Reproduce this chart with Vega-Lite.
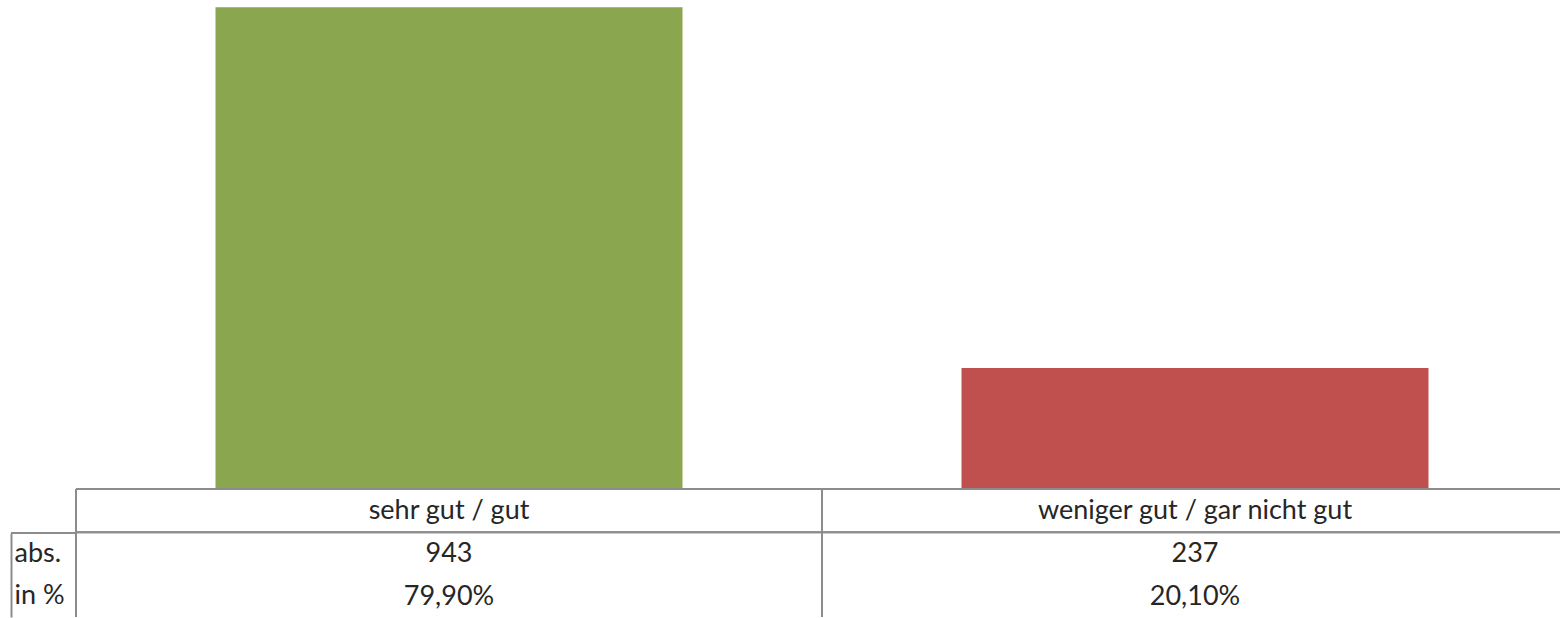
{
  "$schema": "https://vega.github.io/schema/vega-lite/v6.json",
  "padding": {"left": 10, "top": 0, "right": 0, "bottom": 0},
  "bounds": "flush",
  "spacing": 0,
  "columns": 2,
  "resolve": {"scale": {"x": "independent", "y": "independent", "color": "independent"}},
  "config": {
    "view": {"stroke": null},
    "font": "Lato",
    "text": {"font": "Lato", "fontSize": 27, "color": "#262626"},
    "rule": {"color": "#8c8c8c", "strokeWidth": 2}
  },
  "datasets": {
    "main": [
      {"kategorie": "sehr gut / gut", "abs": 943, "prozent": "79,90%"},
      {"kategorie": "weniger gut / gar nicht gut", "abs": 237, "prozent": "20,10%"}
    ]
  },
  "concat": [
    {
      "width": 65,
      "height": 489,
      "data": {"values": [{}]},
      "mark": {"type": "text"},
      "encoding": {"text": {"value": ""}}
    },
    {
      "width": 1484,
      "height": 489,
      "data": {"name": "main"},
      "mark": {"type": "bar", "width": {"band": 0.626}},
      "encoding": {
        "x": {
          "field": "kategorie", "type": "nominal", "sort": null,
          "scale": {"range": [0, 1492], "paddingInner": 0, "paddingOuter": 0},
          "axis": null
        },
        "y": {
          "field": "abs", "type": "quantitative",
          "scale": {"domain": [0, 957]},
          "axis": null
        },
        "color": {
          "field": "kategorie", "type": "nominal", "sort": null,
          "scale": {"range": ["#8aa64e", "#c0504d"]},
          "legend": null
        }
      }
    },
    {
      "width": 65,
      "height": 128,
      "data": {"values": [{"zeile": "abs."}]},
      "mark": {"type": "rule"},
      "encoding": {
        "y": {
          "field": "zeile", "type": "nominal", "bandPosition": 0,
          "scale": {"domain": ["abs.", "in %"], "range": [44, 128], "paddingInner": 0, "paddingOuter": 0},
          "axis": {
            "orient": "left", "title": null, "domain": true, "domainColor": "#8c8c8c", "domainWidth": 2,
            "ticks": false, "tickSize": 0, "grid": false,
            "labelAlign": "left", "labelPadding": -3, "labelFont": "Lato", "labelFontSize": 27,
            "labelColor": "#262626", "minExtent": 0
          }
        }
      }
    },
    {
      "width": 1484,
      "height": 128,
      "data": {"name": "main"},
      "encoding": {
        "x": {
          "field": "kategorie", "type": "nominal", "sort": null,
          "scale": {"range": [0, 1492], "paddingInner": 0, "paddingOuter": 0},
          "axis": null
        }
      },
      "layer": [
        {
          "mark": {"type": "rule"},
          "encoding": {"x": {"field": "kategorie", "type": "nominal", "sort": null, "bandPosition": 0}}
        },
        {
          "mark": {"type": "rule"},
          "encoding": {
            "x": null,
            "y": {"datum": "h", "type": "nominal", "bandPosition": 0,
              "scale": {"domain": ["h", "abs.", "in %"], "range": [0, 130], "paddingInner": 0, "paddingOuter": 0}, "axis": null}
          }
        },
        {
          "mark": {"type": "rule"},
          "encoding": {
            "x": null,
            "y": {"datum": "abs.", "type": "nominal", "bandPosition": 0}
          }
        },
        {
          "mark": {"type": "text"},
          "encoding": {
            "y": {"datum": "h", "type": "nominal"},
            "text": {"field": "kategorie"}
          }
        },
        {
          "mark": {"type": "text"},
          "encoding": {
            "y": {"datum": "abs.", "type": "nominal"},
            "text": {"field": "abs", "type": "quantitative", "format": "d"}
          }
        },
        {
          "mark": {"type": "text"},
          "encoding": {
            "y": {"datum": "in %", "type": "nominal"},
            "text": {"field": "prozent"}
          }
        }
      ]
    }
  ]
}
